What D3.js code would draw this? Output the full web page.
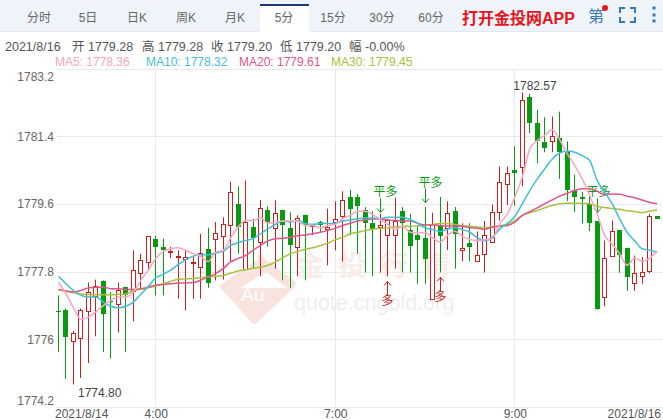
<!DOCTYPE html>
<html>
<head>
<meta charset="utf-8">
<script src="https://cdn.jsdelivr.net/npm/d3@7"></script>
<style>
  html, body { margin: 0; padding: 0; background: #fff; }
  svg { display: block; font-family: "Liberation Sans", "Noto Sans CJK SC", sans-serif; }
</style>
</head>
<body>
<div id="chart"></div>
<script>
// candle values
const opens = [1776.76,1776.77,1775.96,1776.04,1776.76,1777.16,1777.54,1777.03,1776.95,1777.40,
  1777.29,1777.77,1778.07,1778.66,1778.46,1778.32,1778.20,1778.16,1778.05,1777.93,
  1778.41,1778.68,1778.76,1779.05,1779.61,1777.87,1778.98,1778.59,1779.45,1778.97,
  1779.45,1778.97,1778.48,1779.32,1779.01,1779.11,1778.94,1779.14,1779.28,1779.80,
  1779.80,1779.45,1779.10,1778.99,1778.78,1778.78,1779.42,1778.90,1778.78,1778.69,
  1777.08,1779.03,1778.97,1779.42,1778.38,1778.57,1778.09,1778.28,1778.59,1779.40,
  1780.14,1780.52,1780.61,1782.44,1781.77,1781.24,1781.30,1781.36,1781.00,1779.98,
  1779.79,1779.59,1779.14,1777.13,1778.21,1778.90,1778.44,1777.51,1777.69,1777.81,1779.28];
const closes = [1776.73,1776.06,1776.18,1776.79,1777.26,1777.42,1776.67,1777.01,1777.32,1777.19,
  1777.85,1778.12,1778.75,1778.46,1778.38,1778.34,1778.23,1778.20,1778.07,1778.30,
  1777.50,1778.84,1779.08,1779.93,1778.99,1779.11,1778.69,1779.50,1779.14,1779.37,
  1779.05,1778.51,1779.24,1779.06,1779.03,1779.03,1779.00,1779.21,1779.71,1779.49,
  1779.55,1779.10,1778.95,1779.05,1779.18,1779.14,1779.11,1778.48,1778.64,1778.14,
  1779.08,1778.75,1779.37,1778.81,1778.44,1778.46,1778.24,1778.78,1779.40,1780.20,
  1780.43,1780.45,1782.38,1781.75,1781.29,1781.09,1781.42,1781.00,1779.97,1779.79,
  1779.73,1779.09,1776.79,1778.17,1778.88,1778.24,1777.66,1777.77,1777.80,1779.27,1779.20];
const highs = [1777.17,1776.82,1776.22,1776.82,1777.51,1777.59,1777.57,1777.26,1777.51,1777.40,
  1778.37,1778.28,1778.75,1778.75,1778.68,1778.46,1778.37,1778.37,1778.19,1778.81,
  1778.97,1779.12,1779.25,1780.20,1780.07,1780.23,1779.21,1779.71,1779.54,1779.70,
  1779.45,1779.38,1779.30,1779.32,1779.06,1779.15,1779.48,1779.67,1779.94,1779.98,
  1779.87,1779.52,1779.41,1779.34,1779.21,1779.77,1779.52,1779.34,1779.03,1779.52,
  1779.37,1779.79,1779.67,1779.52,1779.09,1779.09,1778.87,1779.15,1779.59,1780.60,
  1780.60,1781.14,1782.57,1782.53,1782.11,1781.91,1781.93,1782.06,1781.27,1780.38,
  1779.92,1779.87,1779.14,1778.63,1779.16,1778.90,1778.44,1778.23,1778.19,1779.34,1779.28];
const lows = [1775.66,1774.95,1774.80,1774.97,1775.37,1776.08,1775.66,1775.49,1776.18,1775.66,
  1776.48,1777.37,1777.84,1777.17,1777.17,1778.16,1777.08,1776.77,1777.08,1777.08,
  1777.37,1777.57,1777.59,1778.07,1778.28,1777.87,1777.88,1777.68,1778.47,1777.88,
  1777.57,1777.37,1777.68,1777.57,1778.77,1778.83,1777.97,1778.37,1778.07,1778.77,
  1778.28,1777.78,1777.68,1777.78,1777.68,1777.88,1777.78,1777.78,1777.48,1777.48,
  1777.08,1777.78,1778.38,1777.88,1778.08,1778.08,1778.09,1777.78,1778.59,1779.16,
  1779.58,1779.56,1780.07,1781.49,1780.69,1780.98,1780.98,1780.27,1779.68,1779.39,
  1779.08,1778.88,1776.79,1776.88,1778.19,1777.77,1777.29,1777.29,1777.48,1777.76,1779.20];

const ma5 = [1777.52,1777.21,1776.84,1776.53,1776.59,1776.73,1776.90,1777.04,1777.13,1777.13,
  1777.26,1777.57,1777.84,1778.15,1778.34,1778.41,1778.44,1778.37,1778.28,1778.21,
  1778.07,1778.32,1778.37,1778.70,1778.99,1779.16,1779.16,1779.24,1779.09,1779.12,
  1779.15,1779.15,1779.14,1779.03,1779.03,1778.97,1779.03,1779.06,1779.21,1779.30,
  1779.41,1779.41,1779.32,1779.19,1779.06,1778.92,1779.01,1778.85,1778.83,1778.84,
  1778.70,1778.59,1778.77,1778.88,1778.74,1778.66,1778.63,1778.65,1778.68,1779.08,
  1779.34,1779.79,1780.32,1781.07,1781.29,1781.43,1781.58,1781.31,1780.94,1780.63,
  1780.27,1779.83,1779.34,1778.77,1778.54,1778.28,1777.97,1778.16,1778.08,1778.15,1778.36];
const ma10 = [1777.68,1777.48,1777.30,1777.17,1777.13,1777.13,1776.99,1776.88,1776.84,1776.88,
  1776.99,1777.20,1777.41,1777.64,1777.73,1777.84,1777.99,1778.12,1778.21,1778.25,
  1778.25,1778.30,1778.34,1778.50,1778.57,1778.63,1778.68,1778.81,1778.94,1779.06,
  1779.15,1779.12,1779.16,1779.08,1779.06,1779.08,1779.08,1779.09,1779.15,1779.18,
  1779.21,1779.23,1779.23,1779.21,1779.25,1779.25,1779.25,1779.19,1779.09,1778.97,
  1778.92,1778.87,1778.93,1778.97,1778.92,1778.85,1778.70,1778.62,1778.72,1778.94,
  1779.09,1779.27,1779.61,1779.96,1780.27,1780.54,1780.80,1780.96,1781.01,1780.98,
  1780.89,1780.76,1780.23,1779.92,1779.61,1779.21,1778.85,1778.63,1778.41,1778.37,1778.32];
const ma20 = [1777.33,1777.29,1777.26,1777.30,1777.37,1777.39,1777.39,1777.35,1777.35,1777.33,
  1777.33,1777.35,1777.39,1777.44,1777.46,1777.48,1777.50,1777.50,1777.51,1777.57,
  1777.66,1777.75,1777.88,1778.06,1778.15,1778.23,1778.37,1778.50,1778.62,1778.68,
  1778.69,1778.72,1778.76,1778.78,1778.81,1778.85,1778.90,1778.96,1779.03,1779.09,
  1779.15,1779.18,1779.20,1779.20,1779.18,1779.16,1779.15,1779.15,1779.09,1779.04,
  1779.04,1779.03,1779.02,1779.02,1779.01,1778.97,1778.96,1778.93,1778.99,1779.01,
  1779.03,1779.12,1779.30,1779.40,1779.50,1779.61,1779.71,1779.81,1779.89,1779.96,
  1780.01,1780.01,1779.94,1779.85,1779.87,1779.86,1779.81,1779.77,1779.71,1779.65,1779.61];
const ma30 = [1777.32,1777.28,1777.24,1777.21,1777.20,1777.19,1777.19,1777.19,1777.20,1777.21,
  1777.29,1777.33,1777.37,1777.42,1777.48,1777.54,1777.60,1777.61,1777.62,1777.64,
  1777.66,1777.68,1777.70,1777.76,1777.82,1777.85,1777.89,1777.92,1777.97,1778.06,
  1778.17,1778.28,1778.34,1778.40,1778.44,1778.50,1778.56,1778.65,1778.72,1778.81,
  1778.85,1778.90,1778.93,1778.96,1778.97,1778.99,1779.01,1779.01,1779.02,1779.04,
  1779.06,1779.08,1779.08,1779.06,1779.02,1779.01,1778.99,1778.97,1778.99,1779.03,
  1779.06,1779.16,1779.30,1779.37,1779.43,1779.50,1779.56,1779.61,1779.62,1779.62,
  1779.62,1779.61,1779.54,1779.51,1779.48,1779.46,1779.42,1779.40,1779.37,1779.41,1779.45];

const priceTicks = [1783.2, 1781.4, 1779.6, 1777.8, 1776, 1774.2];
const timeIdx = [13, 37, 61];
const timeLabels = ["4:00", "7:00", "9:00"];
const tabs = ["分时", "5日", "日K", "周K", "月K", "5分", "15分", "30分", "60分"];
const infoParts = ["2021/8/16", "开 1779.28", "高 1779.28", "收 1779.20", "低 1779.20", "幅 -0.00%"];
const maNames = ["MA5: 1778.36", "MA10: 1778.32", "MA20: 1779.61", "MA30: 1779.45"];
const maColors = ["#f5a6c2", "#3fbfd4", "#e2558c", "#a8c23c"];

// trade signals: candle index, arrow tip price
const closeIdx = [43, 49, 72];
const closeTip = [1779.38, 1779.64, 1779.38];
const longIdx = [44, 51];
const longTip = [1777.54, 1777.65];

const width = 663, height = 420;
const red = "#cb2020", green = "#0a9a12";

const svg = d3.select("#chart").append("svg").attr("width", width).attr("height", height);

// tab bar
svg.append("rect").attr("width", width).attr("height", 32).attr("fill", "#eff4fb");
svg.append("rect").attr("y", 31).attr("width", width).attr("height", 1).attr("fill", "#e1e8f2");
svg.append("rect").attr("x", 260).attr("y", 4).attr("width", 49).attr("height", 28).attr("fill", "#fff");
svg.append("rect").attr("x", 260).attr("y", 4).attr("width", 49).attr("height", 2).attr("fill", "#1d3a78");

const tabX = d3.scalePoint().domain(tabs).range([39, 431]);
svg.selectAll(".tab").data(tabs).join("text")
  .attr("class", "tab")
  .attr("x", d => tabX(d))
  .attr("y", 22)
  .attr("text-anchor", "middle")
  .attr("font-size", 12)
  .attr("fill", "#666")
  .text(d => d);

svg.append("text").attr("x", 462).attr("y", 24)
  .attr("font-size", 16).attr("font-weight", "bold").attr("fill", "#e8141c")
  .text("打开金投网APP");
svg.append("text").attr("x", 588).attr("y", 22)
  .attr("font-size", 16).attr("fill", "#3b79b6").text("第");
svg.append("circle").attr("cx", 605).attr("cy", 8).attr("r", 3).attr("fill", "#e8141c");
svg.append("path")
  .attr("d", "M625 8H620V13M630 8H635V13M625 22H620V17M630 22H635V17")
  .attr("fill", "none").attr("stroke", "#3b79b6").attr("stroke-width", 2);
svg.selectAll(".dot").data([8, 15, 21]).join("rect")
  .attr("class", "dot")
  .attr("x", 652.5).attr("y", d => d - 1.5)
  .attr("width", 3).attr("height", 3).attr("fill", "#3b79b6");

// info rows
svg.selectAll(".info").data(infoParts).join("text")
  .attr("class", "info")
  .attr("x", (d, i) => [5, 72, 142, 211, 280, 349][i])
  .attr("y", 51)
  .attr("font-size", 12.5)
  .attr("fill", "#555")
  .text(d => d);
svg.selectAll(".malabel").data(maNames).join("text")
  .attr("class", "malabel")
  .attr("x", (d, i) => [55, 146, 239, 331][i])
  .attr("y", 66)
  .attr("font-size", 12)
  .attr("fill", (d, i) => maColors[i])
  .text(d => d);

// scales
const x = d3.scalePoint().domain(d3.range(opens.length)).range([58.5, 657]);
const y = d3.scaleLinear().domain([1774.2, 1783.2]).range([407, 68.8]);
const px = i => Math.round(x(i) - 0.5) + 0.5;

// grid
svg.append("g").selectAll("line").data(priceTicks).join("line")
  .attr("x1", 57).attr("x2", width)
  .attr("y1", d => Math.round(y(d)) + 0.5).attr("y2", d => Math.round(y(d)) + 0.5)
  .attr("stroke", "#e9e9e9");
svg.append("g").selectAll("line").data(timeIdx).join("line")
  .attr("x1", d => px(d)).attr("x2", d => px(d))
  .attr("y1", y(1783.2)).attr("y2", y(1774.2))
  .attr("stroke", "#e9e9e9");

// watermark
const mark = svg.append("g");
mark.append("path")
  .attr("d", "M219 286L256 260L268 270L240 288L286 288L296 286L254 325Z")
  .attr("fill", "#f8e3de");
mark.append("path")
  .attr("d", "M257 253L297 283L290 290L258 266Z")
  .attr("fill", "#f8e3de");
mark.append("text").attr("x", 241).attr("y", 301)
  .attr("font-size", 19).attr("fill", "#fff").text("Au");
mark.append("text").attr("x", 296).attr("y", 276)
  .attr("font-size", 28).attr("font-weight", "bold").attr("letter-spacing", 14).attr("fill", "#f9ece9").text("金投行情");
mark.append("text").attr("x", 294).attr("y", 310)
  .attr("font-size", 21.5).attr("fill", "#eeeeee").text("quote.cngold.org");

// price axis, first and last labels are pulled inside the plot
const axisY = svg.append("g").attr("transform", "translate(54,0)")
  .call(d3.axisLeft(y).tickValues(priceTicks).tickSize(0).tickPadding(0).tickFormat(d => String(d)));
axisY.select(".domain").remove();
axisY.selectAll("text").attr("font-size", 12).attr("fill", "#666").attr("font-family", null)
  .attr("dy", (d) => d === 1783.2 ? "1.0em" : d === 1774.2 ? "-0.25em" : "0.32em");

// time axis
const axisX = svg.append("g").attr("transform", "translate(0,408)")
  .call(d3.axisBottom(x).tickValues(timeIdx).tickSize(0).tickPadding(1)
    .tickFormat((d, i) => timeLabels[i]));
axisX.select(".domain").remove();
axisX.selectAll("text").attr("font-size", 12).attr("fill", "#555").attr("font-family", null);
svg.append("text").attr("x", 55).attr("y", 417.5).attr("font-size", 12).attr("fill", "#555").text("2021/8/14");
svg.append("text").attr("x", 661).attr("y", 417.5).attr("text-anchor", "end")
  .attr("font-size", 12).attr("fill", "#555").text("2021/8/16");

// candles
const idx = d3.range(opens.length);
const up = i => closes[i] >= opens[i];
const candles = svg.append("g");
candles.selectAll("line").data(idx).join("line")
  .attr("x1", px).attr("x2", px)
  .attr("y1", i => y(highs[i])).attr("y2", i => y(lows[i]))
  .attr("stroke", i => up(i) ? red : green);
candles.selectAll("rect").data(idx).join("rect")
  .attr("x", i => up(i) ? px(i) - 2 : px(i) - 2.5)
  .attr("width", i => up(i) ? 4 : 5)
  .attr("y", i => Math.round(y(Math.max(opens[i], closes[i]))) + (up(i) ? 0.5 : 0))
  .attr("height", i => Math.max(1, Math.round(Math.abs(y(opens[i]) - y(closes[i])))))
  .attr("fill", i => up(i) ? "#fff" : green)
  .attr("stroke", i => up(i) ? red : "none");

// signal arrows
function arrow(i, tipPrice, dir, color, label, labelDx, labelDy) {
  const tx = px(i), ty = y(tipPrice);
  const g = svg.append("g");
  g.append("path")
    .attr("d", `M${tx} ${ty - dir * 14}V${ty}M${tx - 3.5} ${ty - dir * 4}L${tx} ${ty}L${tx + 3.5} ${ty - dir * 4}`)
    .attr("fill", "none").attr("stroke", color);
  g.append("text").attr("x", tx + labelDx).attr("y", ty + labelDy)
    .attr("text-anchor", "middle").attr("font-size", 12).attr("fill", color).text(label);
}
closeIdx.forEach((d, k) => arrow(d, closeTip[k], 1, green, "平多", k === 2 ? 1 : 5, -16));
longIdx.forEach((d, k) => arrow(d, longTip[k], -1, red, "多", 0, 24));

// moving averages
const line = d3.line().x((d, i) => x(i)).y(d => y(d)).curve(d3.curveMonotoneX);
[ma30, ma20, ma10, ma5].forEach((s, k) => {
  svg.append("path").attr("d", line(s)).attr("fill", "none")
    .attr("stroke", maColors[3 - k]).attr("stroke-width", 1.5);
});

// high / low labels
svg.append("text").attr("x", x(62) - 9).attr("y", 90).attr("font-size", 12).attr("fill", "#444").text("1782.57");
svg.append("text").attr("x", x(2) + 4.5).attr("y", 397).attr("font-size", 12).attr("fill", "#444").text("1774.80");
</script>
</body>
</html>
